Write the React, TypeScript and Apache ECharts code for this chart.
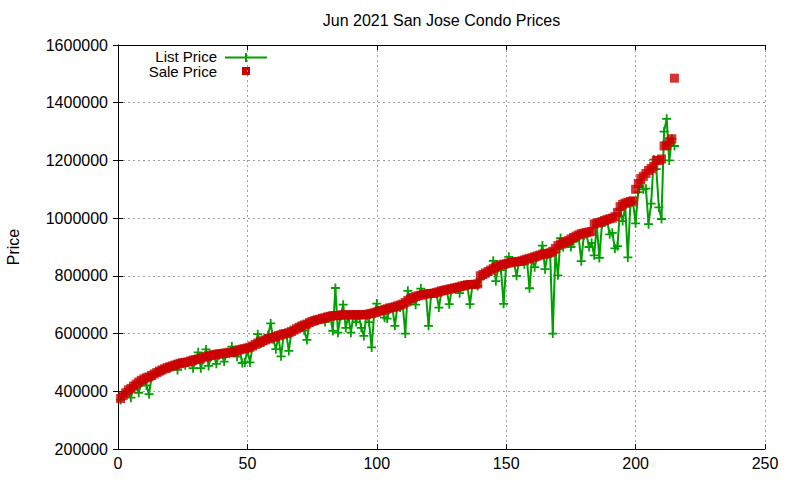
import React, { useEffect, useRef } from "react";
import * as echarts from "echarts";

const TITLE = "Jun 2021 San Jose Condo Prices";
const Y_NAME = "Price";
const LIST_NAME = "List Price";
const SALE_NAME = "Sale Price";
const X_TICKS = [0, 50, 100, 150, 200, 250];
const Y_TICKS = [200000, 400000, 600000, 800000, 1000000, 1200000, 1400000, 1600000];

// values in thousands of dollars, listing index 1..215
const saleK = [
  375, 385, 395, 405, 410, 418, 425, 432, 438, 443,
  447, 450, 455, 460, 465, 470, 474, 478, 482, 485,
  488, 491, 494, 497, 499, 500, 502, 505, 508, 510,
  512, 515, 518, 520, 523, 525, 527, 528, 530, 530,
  532, 533, 535, 535, 537, 540, 544, 546, 548, 550,
  553, 557, 562, 567, 570, 575, 578, 582, 585, 587,
  590, 593, 596, 599, 600, 603, 607, 612, 617, 622,
  626, 630, 633, 638, 642, 645, 648, 650, 653, 655,
  658, 660, 662, 662, 663, 664, 665, 665, 665, 665,
  665, 665, 665, 665, 665, 666, 668, 670, 672, 675,
  678, 680, 683, 686, 689, 690, 693, 696, 699, 702,
  708, 715, 720, 725, 728, 731, 733, 735, 737, 738,
  739, 740, 742, 745, 748, 750, 752, 754, 756, 758,
  760, 762, 765, 767, 769, 770, 770, 771, 772, 800,
  805, 810, 815, 820, 825, 830, 835, 838, 840, 842,
  845, 847, 848, 849, 850, 852, 855, 858, 860, 863,
  866, 869, 872, 875, 876, 878, 880, 885, 895, 905,
  910, 915, 918, 922, 928, 933, 938, 942, 946, 948,
  950, 952, 954, 980, 983, 985, 988, 992, 995, 998,
  1000, 1005, 1020, 1040, 1048, 1052, 1055, 1058, 1060, 1100,
  1120, 1137, 1145, 1155, 1165, 1172, 1180, 1200, 1200, 1205,
  1250, 1252, 1265, 1275, 1485,
];

const listK = [
  370, 390, 395, 400, 378, 415, 420, 395, 430, 440,
  420, 390, 450, 455, 465, 470, 470, 475, 480, 480,
  485, 490, 474, 495, 495, 490, 500, 505, 480, 505,
  535, 480, 510, 545, 488, 520, 525, 495, 525, 530,
  503, 530, 530, 555, 535, 520, 545, 498, 500, 545,
  500, 555, 560, 598, 565, 570, 575, 595, 635, 580,
  546, 590, 521, 595, 600, 540, 605, 610, 615, 625,
  620, 610, 578, 635, 640, 645, 645, 650, 650, 640,
  655, 660, 609, 758, 603, 660, 700, 620, 660, 603,
  665, 640, 665, 620, 592, 665, 640, 552, 670, 704,
  675, 680, 655, 652, 685, 690, 627, 695, 690, 700,
  600, 748, 710, 720, 700, 730, 756, 735, 735, 627,
  735, 740, 740, 690, 745, 748, 750, 702, 755, 755,
  760, 740, 765, 765, 765, 702, 770, 770, 765, 790,
  800, 805, 810, 815, 852, 782, 830, 820, 703, 840,
  866, 845, 845, 800, 850, 850, 840, 855, 757, 860,
  830, 865, 870, 905, 823, 875, 870, 600, 880, 802,
  931, 900, 910, 915, 900, 920, 930, 935, 851, 940,
  945, 900, 914, 871, 975, 862, 980, 985, 990, 944,
  949, 895, 903, 1030, 990, 1040, 864, 1050, 1055, 982,
  1090, 1120, 1100, 1102, 979, 1050, 1203, 1170, 1037, 997,
  1300, 1344, 1200, 1275, 1250,
];

const FONT = "'Liberation Sans', Arial, sans-serif";
const GREEN = "#00a000";
const RED = "#cc0000";
const PLUS = "path://M0 4H10V6H0Z M4 0H6V10H4Z";

export default function App() {
  const ref = useRef<HTMLDivElement>(null);
  useEffect(() => {
    if (!ref.current) return;
    const chart = echarts.init(ref.current, null, { renderer: "svg" });
    const listData = listK.map((v, i) => [i + 1, v * 1000]);
    const saleData = saleK.map((v, i) => [i + 1, v * 1000]);
    const gridLeft = 118;
    const gridRight = 765;
    const axisText = { color: "#000", fontFamily: FONT, fontSize: 16 };
    const split = { show: true, lineStyle: { color: "#a0a0a0", type: [2, 3], width: 1 } };
    const tick = { show: true, inside: true, length: 5, lineStyle: { color: "#000" } };
    const line = { show: true, lineStyle: { color: "#000", width: 1 } };
    chart.setOption({
      animation: false,
      backgroundColor: "#fff",
      grid: {
        left: gridLeft,
        right: 800 - gridRight,
        top: 45,
        bottom: 31,
        containLabel: false,
        outerBoundsMode: "none",
      },
      xAxis: [
        {
          type: "value",
          min: X_TICKS[0],
          max: X_TICKS[X_TICKS.length - 1],
          interval: 50,
          position: "bottom",
          axisLine: line,
          axisTick: tick,
          axisLabel: { ...axisText, margin: 6, formatter: (v: number) => String(v) },
          splitLine: split,
        },
        {
          type: "value",
          min: X_TICKS[0],
          max: X_TICKS[X_TICKS.length - 1],
          interval: 50,
          position: "top",
          axisLine: line,
          axisTick: tick,
          axisLabel: { show: false },
          splitLine: { show: false },
        },
      ],
      yAxis: [
        {
          type: "value",
          min: Y_TICKS[0],
          max: Y_TICKS[Y_TICKS.length - 1],
          interval: 200000,
          position: "left",
          name: Y_NAME,
          nameLocation: "middle",
          nameRotate: 90,
          nameGap: 97,
          nameTextStyle: { color: "#000", fontFamily: FONT, fontSize: 16 },
          axisLine: line,
          axisTick: tick,
          axisLabel: { ...axisText, margin: 10, formatter: (v: number) => String(v) },
          splitLine: split,
        },
        {
          type: "value",
          min: Y_TICKS[0],
          max: Y_TICKS[Y_TICKS.length - 1],
          interval: 200000,
          position: "right",
          axisLine: line,
          axisTick: tick,
          axisLabel: { show: false },
          splitLine: { show: false },
        },
      ],
      series: [
        {
          name: LIST_NAME,
          type: "line",
          data: listData,
          symbol: PLUS,
          symbolSize: 9,
          showAllSymbol: true,
          lineStyle: { color: GREEN, width: 2 },
          itemStyle: { color: GREEN },
          silent: true,
          z: 2,
        },
        {
          name: SALE_NAME,
          type: "scatter",
          data: saleData,
          symbol: "rect",
          symbolSize: 9,
          itemStyle: { color: RED },
          silent: true,
          z: 3,
        },
      ],
      graphic: [
        {
          type: "text",
          x: (gridLeft + gridRight) / 2,
          y: 20,
          style: { text: TITLE, font: `16px ${FONT}`, fill: "#000", textAlign: "center", textVerticalAlign: "middle" },
        },
        {
          type: "text",
          x: 217,
          y: 56,
          style: { text: LIST_NAME, font: `15px ${FONT}`, fill: "#000", textAlign: "right", textVerticalAlign: "middle" },
        },
        {
          type: "line",
          shape: { x1: 225, y1: 57.5, x2: 267, y2: 57.5 },
          style: { stroke: GREEN, lineWidth: 2 },
        },
        {
          type: "line",
          shape: { x1: 246, y1: 53, x2: 246, y2: 62 },
          style: { stroke: GREEN, lineWidth: 2 },
        },
        {
          type: "text",
          x: 217,
          y: 71.5,
          style: { text: SALE_NAME, font: `15px ${FONT}`, fill: "#000", textAlign: "right", textVerticalAlign: "middle" },
        },
        {
          type: "rect",
          shape: { x: 242, y: 67, width: 8, height: 8 },
          style: { fill: RED },
        },
      ],
    });
    return () => chart.dispose();
  }, []);
  return (
    <div
      ref={ref}
      style={{ position: "fixed", left: 0, top: 0, width: 800, height: 480, background: "#fff" }}
    />
  );
}
